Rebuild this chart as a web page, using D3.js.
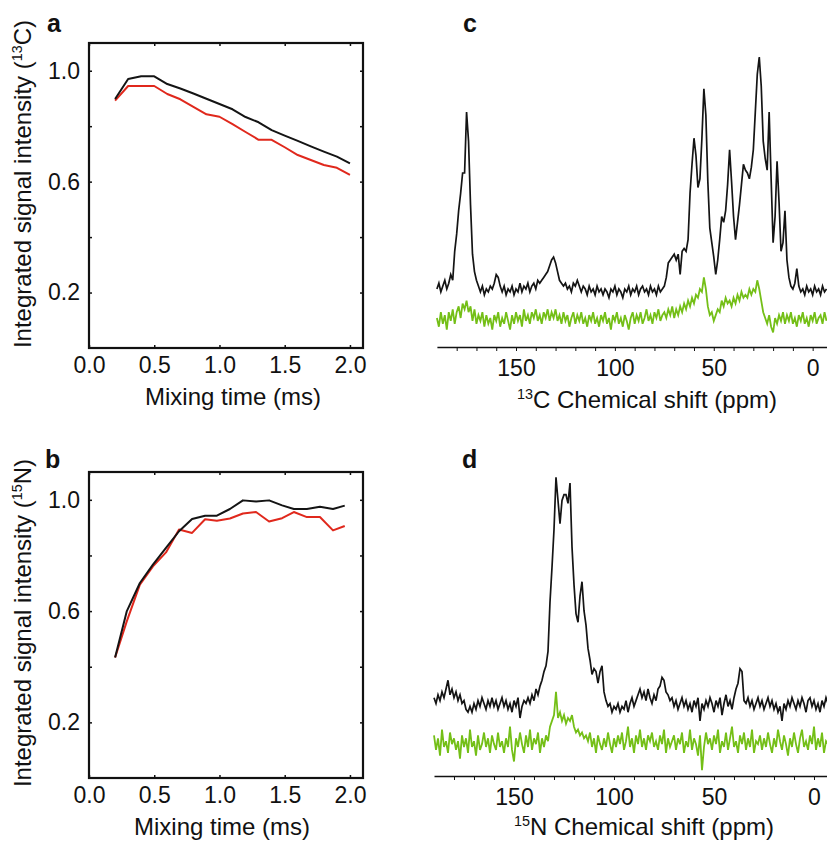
<!DOCTYPE html>
<html>
<head>
<meta charset="utf-8">
<script src="https://cdn.jsdelivr.net/npm/d3@7"></script>
<style>
body { margin: 0; background: #fff; }
text { font-family: "Liberation Sans", Arial, Helvetica, sans-serif; fill: #111; }
</style>
</head>
<body>
<svg id="fig" width="827" height="841"></svg>
<script>
// mixing time build-up curves (panels a and b)
var mixTimeA = [0.2, 0.3, 0.4, 0.5, 0.6, 0.7, 0.8, 0.9, 1.0, 1.1, 1.2, 1.3, 1.4, 1.5, 1.6, 1.7, 1.8, 1.9, 2.0];
var c13Black = [0.898, 0.970, 0.980, 0.980, 0.952, 0.936, 0.918, 0.899, 0.880, 0.861, 0.833, 0.814, 0.786, 0.766, 0.747, 0.727, 0.708, 0.690, 0.666];
var c13Red   = [0.892, 0.945, 0.945, 0.945, 0.916, 0.897, 0.870, 0.843, 0.834, 0.807, 0.779, 0.751, 0.751, 0.724, 0.696, 0.678, 0.660, 0.650, 0.624];

var mixTimeB = [0.2, 0.29, 0.39, 0.49, 0.59, 0.69, 0.79, 0.89, 0.98, 1.08, 1.18, 1.28, 1.38, 1.48, 1.57, 1.67, 1.77, 1.87, 1.96];
var n15Black = [0.433, 0.600, 0.701, 0.767, 0.827, 0.887, 0.931, 0.943, 0.943, 0.967, 0.998, 0.994, 0.998, 0.980, 0.967, 0.967, 0.975, 0.967, 0.979];
var n15Red   = [0.433, 0.564, 0.695, 0.761, 0.811, 0.893, 0.881, 0.930, 0.925, 0.933, 0.951, 0.956, 0.922, 0.934, 0.956, 0.938, 0.938, 0.890, 0.906];

var intensityTicks = [0.2, 0.4, 0.6, 0.8, 1.0];
var intensityLabels = [0.2, 0.6, 1.0];
var mixTicks = [0.0, 0.5, 1.0, 1.5, 2.0];

// spectra (panels c and d): one point per ppm, starting at 190 ppm, intensity x 0.01
var ppmFirst = 190;
var cSpecBlack = [
  20,22,19,21,23,20,22,25,23,33, 39,47,53,60,60,81,71,49,32,26,
  23,21,19,21,18,20,19,21,20,22, 25,24,21,19,21,18,20,19,21,18,
  20,19,22,19,21,20,22,19,21,22, 20,23,22,23,24,25,26,28,30,31,
  29,26,23,22,21,22,20,21,19,22, 21,23,21,19,21,20,18,21,19,20,
  18,21,19,20,18,20,19,17,20,19, 21,18,20,19,17,20,19,21,18,20,
  19,21,18,20,21,19,20,18,21,19, 20,18,21,19,20,21,24,29,30,31,
  32,30,32,25,33,34,33,37,53,63, 72,66,55,58,72,89,80,57,41,36,
  31,25,30,37,45,43,47,56,68,57, 45,37,43,49,56,63,61,60,58,62,
  68,81,94,100,90,71,65,61,81,58, 36,45,64,50,33,36,47,30,24,21,
  20,22,27,21,19,20,18,21,19,20, 18,21,19,20,18,21,19,20];
var cSpecGreen = [
  10,7,12,8,11,6,12,9,13,8, 12,14,10,15,13,16,12,14,9,13,
  8,11,9,12,7,11,8,10,6,11, 9,12,7,10,8,12,9,6,11,8,
  12,9,11,7,13,9,11,8,12,10, 13,9,11,8,12,10,13,9,12,10,
  13,9,11,8,12,9,11,7,10,12, 8,11,9,12,8,10,7,11,9,12,
  8,10,7,11,9,12,8,10,6,11, 9,12,8,10,7,11,9,6,10,12,
  8,11,9,12,8,10,13,9,11,8, 12,10,13,9,11,12,10,13,11,14,
  10,13,11,14,12,15,13,16,14,17, 15,18,17,20,19,24,20,14,11,12,
  9,11,13,12,16,14,17,15,16,14, 17,15,18,16,19,17,18,17,20,18,
  20,19,23,20,16,12,10,8,11,7, 5,10,8,11,9,12,8,11,9,12,
  8,10,7,11,9,12,8,10,7,11, 9,12,8,10,11,8,12,9];
var dSpecBlack = [
  27,25,28,26,29,27,30,33,28,30, 27,29,26,28,25,26,23,22,24,22,
  25,23,26,24,27,25,23,26,24,27, 24,26,23,25,27,24,26,23,25,22,
  26,24,27,20,24,26,25,27,25,28, 26,30,28,31,33,36,38,43,60,72,
  85,103,95,87,95,97,97,94,101,79, 66,56,53,62,67,57,52,44,40,35,
  37,36,32,36,38,29,26,24,25,22, 24,23,25,22,24,23,26,22,25,27,
  24,26,28,30,27,29,26,30,27,25, 28,26,30,31,34,33,29,28,26,27,
  24,26,23,25,27,24,26,23,25,22, 26,24,27,19,25,23,26,24,27,25,
  22,26,24,27,21,25,28,24,26,23, 27,30,32,37,36,26,25,27,24,26,
  23,25,27,24,26,23,25,27,24,26, 23,25,22,24,19,25,23,26,24,27,
  25,23,26,24,27,25,22,26,27,24, 26,23,25,22,26,24,27,25];
var dSpecGreen = [
  14,9,13,7,16,10,12,8,15,11, 13,9,12,6,14,10,13,8,16,10,
  12,7,14,9,11,15,10,13,8,14, 11,9,15,10,12,8,13,10,17,9,
  5,13,10,15,11,8,14,10,16,9, 13,11,15,8,13,10,14,12,17,19,
  21,29,20,22,19,21,18,20,19,21, 17,15,16,14,15,13,14,12,15,10,
  13,8,14,11,9,13,10,15,11,8, 13,10,14,11,15,9,12,17,10,13,
  8,14,11,16,10,13,9,14,12,15, 10,12,9,14,11,16,8,13,10,12,
  14,9,13,11,15,8,12,10,16,9, 13,11,7,14,2,10,15,11,13,9,
  14,11,16,8,12,10,15,9,13,17, 10,12,8,14,11,15,9,13,10,16,
  8,12,11,14,9,13,10,15,11,8, 13,10,16,12,9,14,11,7,13,10,
  15,11,8,13,16,10,12,9,14,11, 17,9,13,10,15,8,12,11];
var ppmTicks = [180, 170, 160, 150, 140, 130, 120, 110, 100, 90, 80, 70, 60, 50, 40, 30, 20, 10, 0];
var ppmLabels = [150, 100, 50, 0];

var colBlack = "#141414", colRed = "#e0281c", colGreen = "#74bf17";

var svg = d3.select("#fig");

function addSup(textSel, before, sup, after) {
    textSel.append("tspan").text(before);
    textSel.append("tspan").attr("font-size", "0.6em").attr("dy", "-0.65em").text(sup);
    textSel.append("tspan").attr("dy", "0.39em").text(after);
}

// panels a / b
function mixPanel(top, bottom, xs, blackVals, redVals, nucleus, titleX, titleY, ytitleY) {
    var left = 89, right = 363;
    var x = d3.scaleLinear().domain([0, 2.1]).range([left, right]);
    var y = d3.scaleLinear().domain([0, 1.1]).range([bottom, top]);
    var g = svg.append("g");

    var fmt = function(d) { return intensityLabels.indexOf(d) >= 0 ? d.toFixed(1) : ""; };
    var axes = [
        [d3.axisLeft(y).tickValues(intensityTicks).tickFormat(fmt), "translate(" + left + ",0)"],
        [d3.axisRight(y).tickValues(intensityTicks).tickFormat(""), "translate(" + right + ",0)"],
        [d3.axisBottom(x).tickValues(mixTicks).tickFormat(d3.format(".1f")), "translate(0," + bottom + ")"],
        [d3.axisTop(x).tickValues(mixTicks).tickFormat(""), "translate(0," + top + ")"]
    ];
    axes.forEach(function(a) {
        var ax = g.append("g").attr("transform", a[1])
            .call(a[0].tickSizeInner(-3).tickSizeOuter(0).tickPadding(9));
        ax.select(".domain").remove();
        ax.selectAll("line").attr("stroke", "#111").attr("stroke-width", 1.5);
        ax.selectAll("text").attr("font-size", 23).attr("fill", "#111")
            .style("font-family", '"Liberation Sans", Arial, sans-serif');
    });

    var line = d3.line().x(function(d, i) { return x(xs[i]); }).y(function(d) { return y(d); });
    g.append("path").datum(redVals).attr("d", line)
        .attr("fill", "none").attr("stroke", colRed).attr("stroke-width", 2).attr("stroke-linejoin", "round");
    g.append("path").datum(blackVals).attr("d", line)
        .attr("fill", "none").attr("stroke", colBlack).attr("stroke-width", 2).attr("stroke-linejoin", "round");

    g.append("rect").attr("x", left).attr("y", top).attr("width", right - left).attr("height", bottom - top)
        .attr("fill", "none").attr("stroke", "#111").attr("stroke-width", 2.2);

    g.append("text").attr("x", titleX).attr("y", titleY).attr("text-anchor", "middle")
        .attr("font-size", 24).text("Mixing time (ms)");

    var yt = g.append("text").attr("transform", "translate(31," + ytitleY + ") rotate(-90)")
        .attr("text-anchor", "middle").attr("font-size", 24);
    addSup(yt, "Integrated signal intensity (", nucleus.num, nucleus.sym + ")");
}

mixPanel(43, 348, mixTimeA, c13Black, c13Red, {num: "13", sym: "C"}, 233, 405, 184);
mixPanel(472, 778, mixTimeB, n15Black, n15Red, {num: "15", sym: "N"}, 222, 835, 623);

// panels c / d
function specPanel(axisY, xRange, blackVals, greenVals, nucleus, titleX, titleY) {
    var x = d3.scaleLinear().domain([190, -7]).range(xRange);
    var y = d3.scaleLinear().domain([0, 1]).range([axisY, axisY - 290]);
    var g = svg.append("g");

    var line = d3.line()
        .x(function(d, i) { return x(ppmFirst - i); })
        .y(function(d) { return y(d / 100); });
    g.append("path").datum(greenVals).attr("d", line)
        .attr("fill", "none").attr("stroke", colGreen).attr("stroke-width", 1.8);
    g.append("path").datum(blackVals).attr("d", line)
        .attr("fill", "none").attr("stroke", colBlack).attr("stroke-width", 1.7);

    var ax = g.append("g").attr("transform", "translate(0," + axisY + ")")
        .call(d3.axisBottom(x).tickValues(ppmTicks).tickSizeInner(4).tickSizeOuter(0).tickPadding(9)
            .tickFormat(function(d) { return ppmLabels.indexOf(d) >= 0 ? d : ""; }));
    ax.select(".domain").attr("stroke", "#111").attr("stroke-width", 1.5);
    ax.selectAll("line").attr("stroke", "#111").attr("stroke-width", 1);
    ax.selectAll("text").attr("font-size", 23).attr("fill", "#111")
        .style("font-family", '"Liberation Sans", Arial, sans-serif');

    var t = g.append("text").attr("x", titleX).attr("y", titleY).attr("text-anchor", "middle").attr("font-size", 24);
    addSup(t, "", nucleus.num, nucleus.sym + " Chemical shift (ppm)");
}

specPanel(347, [436.9, 826.5], cSpecBlack, cSpecGreen, {num: "13", sym: "C"}, 647, 408);
specPanel(776, [434, 828], dSpecBlack, dSpecGreen, {num: "15", sym: "N"}, 644, 835);

// panel letters
[["a", 47, 32], ["b", 45, 468], ["c", 463, 32], ["d", 462, 468]].forEach(function(p) {
    svg.append("text").attr("x", p[1]).attr("y", p[2]).attr("font-size", 25)
        .attr("font-weight", "bold").text(p[0]);
});
</script>
</body>
</html>
